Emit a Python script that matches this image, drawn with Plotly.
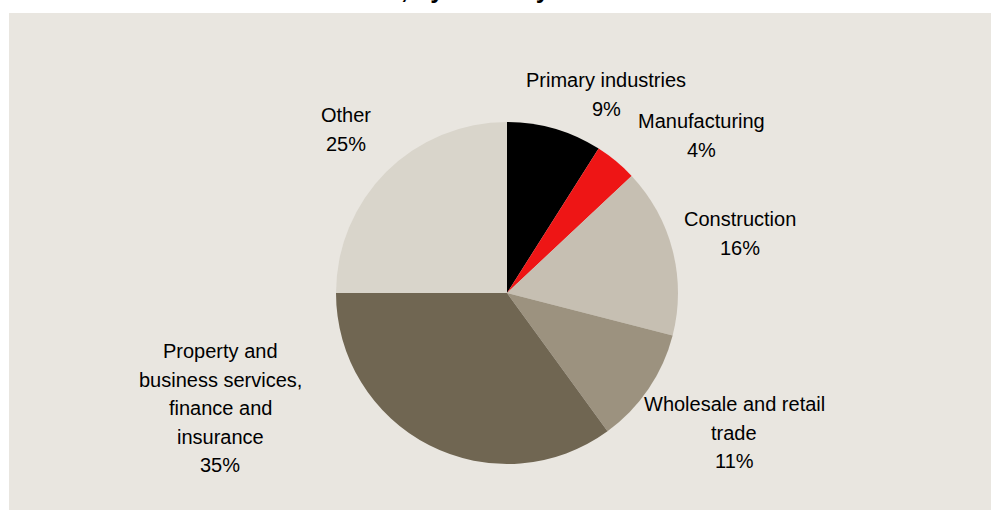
import plotly.graph_objects as go

# Share of total by industry (%)
industries = [
    "Primary industries",
    "Manufacturing",
    "Construction",
    "Wholesale and retail trade",
    "Property and business services, finance and insurance",
    "Other",
]
shares = [9, 4, 16, 11, 35, 25]

# Label text split over lines as it is set beside each slice
label_lines = [
    ["Primary industries"],
    ["Manufacturing"],
    ["Construction"],
    ["Wholesale and retail", "trade"],
    ["Property and", "business services,", "finance and", "insurance"],
    ["Other"],
]

title_tail = ", by industry"

colors = ["#000000", "#EE1515", "#C6BFB2", "#9C927F", "#706652", "#D9D5CB"]

W, H = 991, 510
FONT = "Liberation Sans, Arial, sans-serif"

# Label anchor (centre x, first-line centre y) in pixels, and line pitch
label_pos = [(606, 80), (701, 121), (740, 219), (734, 404), (220, 351), (346, 115)]
LINE_PITCH = 28.5

# Pie geometry in pixels
cx, cy, r = 507, 293, 171

fig = go.Figure(
    go.Pie(
        labels=industries,
        values=shares,
        sort=False,
        direction="clockwise",
        rotation=0,
        marker=dict(colors=colors, line=dict(width=0)),
        textinfo="none",
        hoverinfo="label+percent",
        domain=dict(
            x=[(cx - r) / W, (cx + r) / W],
            y=[(H - cy - r) / H, (H - cy + r) / H],
        ),
        showlegend=False,
    )
)

def px_x(x):
    return x / W

def px_y(y):
    return 1 - y / H

annotations = []
for lines, val, (x, y0) in zip(label_lines, shares, label_pos):
    for i, line in enumerate(lines + [f"{val}%"]):
        annotations.append(
            dict(
                x=px_x(x), y=px_y(y0 + i * LINE_PITCH),
                xref="paper", yref="paper",
                text=line, showarrow=False,
                xanchor="center", yanchor="middle",
                font=dict(family=FONT, size=20, color="#000000"),
            )
        )

# Title line sits above the panel top edge, only its descenders reach the page
annotations.append(
    dict(
        x=px_x(399), y=px_y(-11),
        xref="paper", yref="paper",
        text=f"<b>{title_tail}</b>", showarrow=False,
        xanchor="left", yanchor="middle",
        font=dict(family=FONT, size=25, color="#000000"),
    )
)

fig.update_layout(
    width=W, height=H,
    margin=dict(l=0, r=0, t=0, b=0),
    paper_bgcolor="#FFFFFF",
    plot_bgcolor="#FFFFFF",
    shapes=[
        dict(
            type="rect", xref="paper", yref="paper",
            x0=9 / W, x1=1, y0=0, y1=1 - 13 / H,
            fillcolor="#E9E6E0", line=dict(width=0), layer="below",
        )
    ],
    annotations=annotations,
)

fig.write_html("out.html")
